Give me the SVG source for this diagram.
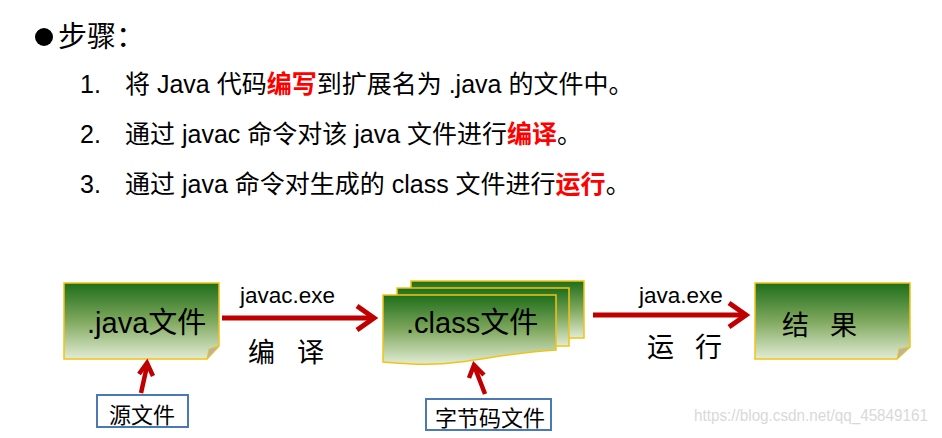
<svg xmlns="http://www.w3.org/2000/svg" width="942" height="438" viewBox="0 0 942 438">
<defs>
<linearGradient id="g" x1="0" y1="0" x2="0" y2="1">
<stop offset="0" stop-color="#1e6e1a"/>
<stop offset="0.5" stop-color="#7fa85e"/>
<stop offset="1" stop-color="#e2ecd4"/>
</linearGradient>
<style>
.cjk{font-family:"Noto Sans CJK SC",sans-serif;fill:#000}
.lat{font-family:"Liberation Sans","Noto Sans CJK SC",sans-serif;fill:#000}
.red{fill:#ff0000;font-weight:bold}
.sheet{fill:url(#g);stroke:#f2c314;stroke-width:1.5}
.fold{fill:#b4b4b4;stroke:#f2c314;stroke-width:1}
.lbl{fill:#fff;stroke:#4a7ab5;stroke-width:2}
.arr{fill:none;stroke:#c00000;stroke-width:5}
.arrs{fill:none;stroke:#c00000;stroke-width:4.5}
</style>
</defs>
<rect width="942" height="438" fill="#fff"/>
<g id="heading">
<circle cx="44" cy="37" r="9" fill="#000"/>
<text class="cjk" x="58" y="47" font-size="29">步骤：</text>
</g>
<g id="steps" font-size="25">
<text class="lat" x="80" y="93">1.</text>
<text class="lat" x="125" y="93">将 Java 代码<tspan class="red">编写</tspan>到扩展名为 .java 的文件中。</text>
<text class="lat" x="80" y="143">2.</text>
<text class="lat" x="125" y="143">通过 javac 命令对该 java 文件进行<tspan class="red">编译</tspan>。</text>
<text class="lat" x="80" y="193">3.</text>
<text class="lat" x="125" y="193">通过 java 命令对生成的 class 文件进行<tspan class="red">运行</tspan>。</text>
</g>
<g id="java-file">
<path class="sheet" d="M64,283 H219 V346 L207,359 H64 Z"/>
<path class="fold" d="M219,346 L207,359 L209,349 Z"/>
<text class="lat" x="87" y="333" font-size="29">.java文件</text>
</g>
<g id="source-label">
<rect class="lbl" x="97" y="395" width="91" height="32"/>
<text class="cjk" x="109" y="423" font-size="22">源文件</text>
</g>
<g id="class-file">
<rect class="sheet" x="411" y="281" width="173" height="57"/>
<rect class="sheet" x="397" y="288" width="172" height="58"/>
<path class="sheet" d="M383,295 H556 V350 C520,352 490,358 460,362 C430,366 410,364 383,362 Z"/>
<text class="lat" x="406" y="333" font-size="29">.class文件</text>
</g>
<g id="bytecode-label">
<rect class="lbl" x="426" y="399" width="125" height="31"/>
<text class="cjk" x="435" y="426" font-size="22">字节码文件</text>
</g>
<g id="result">
<path class="sheet" d="M755,283 H910 V347 L897,359 H755 Z"/>
<path class="fold" d="M910,347 L897,359 L899,349 Z"/>
<text class="cjk" x="782" y="335" font-size="27">结</text>
<text class="cjk" x="830" y="335" font-size="27">果</text>
</g>
<g id="connectors">
<line class="arr" x1="222" y1="318" x2="371" y2="318"/>
<polyline class="arr" points="357,306 374,318 357,330"/>
<text class="lat" x="240" y="303" font-size="22.5">javac.exe</text>
<text class="cjk" x="248" y="362" font-size="27">编</text>
<text class="cjk" x="297" y="362" font-size="27">译</text>
<line class="arr" x1="593" y1="315" x2="742" y2="315"/>
<polyline class="arr" points="729,303 746,315 729,327"/>
<text class="lat" x="639" y="303" font-size="22.5">java.exe</text>
<text class="cjk" x="647" y="357" font-size="27">运</text>
<text class="cjk" x="695" y="357" font-size="27">行</text>
<line class="arrs" x1="141" y1="393" x2="147" y2="366"/>
<polyline class="arrs" points="139,374 147,363 153,376"/>
<line class="arrs" x1="485" y1="394" x2="475" y2="368"/>
<polyline class="arrs" points="469,378 474,365 484,375"/>
</g>
<g id="watermark">
<text x="694" y="421" font-size="16" textLength="234" lengthAdjust="spacingAndGlyphs" font-family="Liberation Sans, sans-serif" fill="#d9d9d9">https://blog.csdn.net/qq_45849161</text>
</g>
</svg>
